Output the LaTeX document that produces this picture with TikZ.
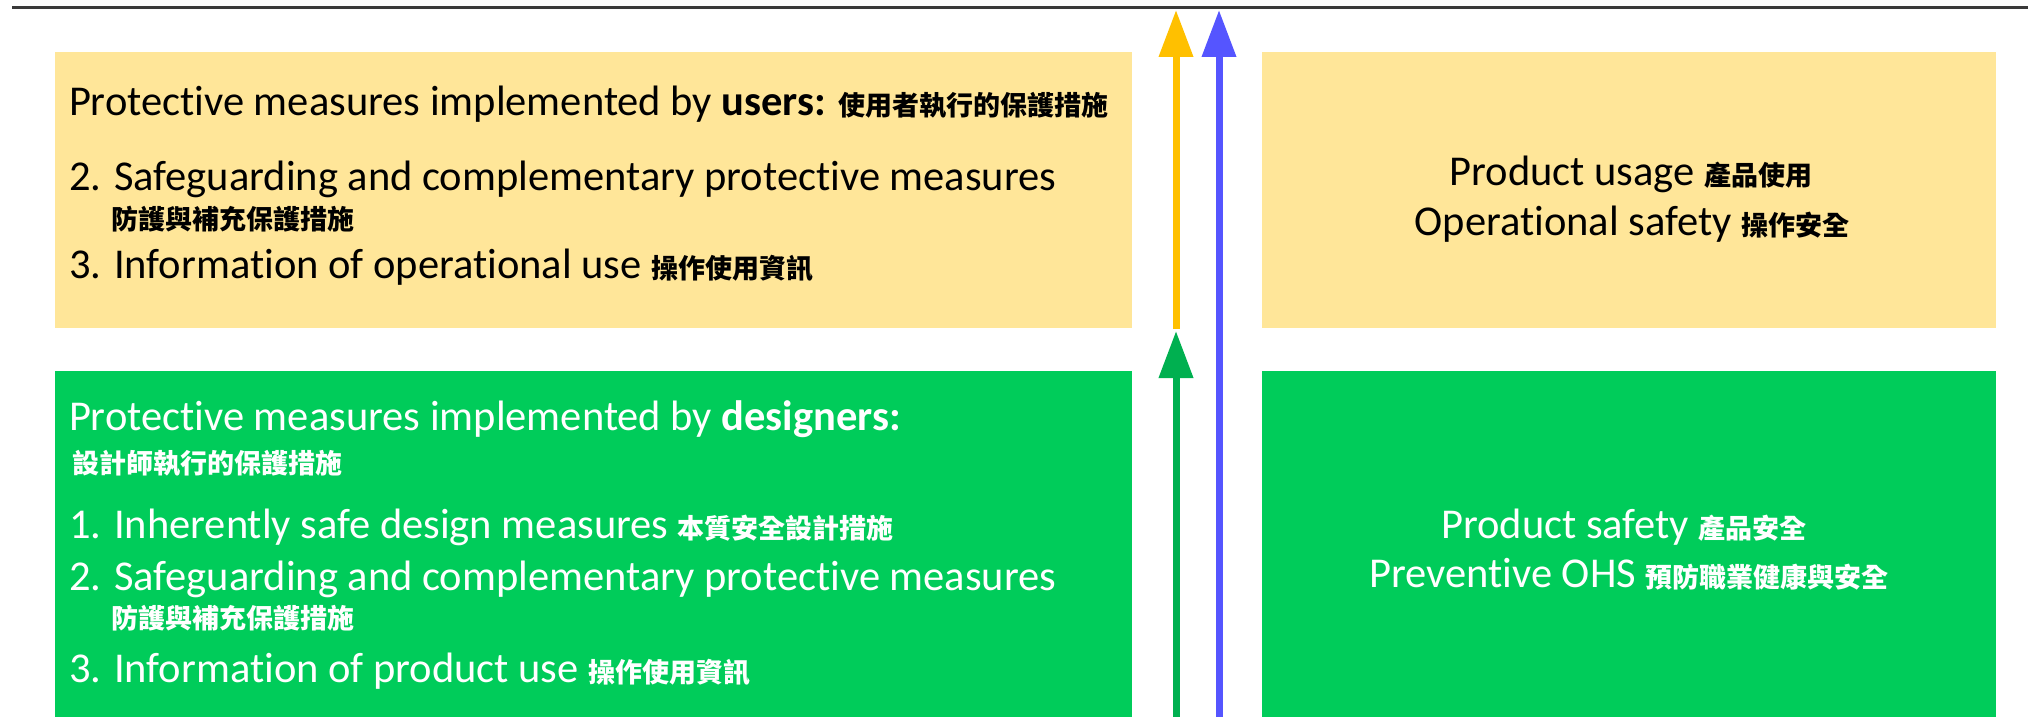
\documentclass[tikz,border=0pt]{standalone}
\usepackage{fontspec}
\setmainfont{Carlito}[Ligatures={NoCommon}]
\newfontfamily\cjk{Noto Sans CJK TC}
\usetikzlibrary{arrows.meta}
\definecolor{boxyellow}{HTML}{FFE699}
\definecolor{boxgreen}{HTML}{00CC5A}
\definecolor{arryellow}{HTML}{FFC000}
\definecolor{arrgreen}{HTML}{00B050}
\definecolor{arrblue}{HTML}{5555FF}
\definecolor{topline}{HTML}{3A3A3A}
\newcommand{\zh}[1]{{\cjk\bfseries\fontsize{27}{30}\selectfont #1}}
\tikzset{
  panel/.style={draw=none, inner sep=0pt, outer sep=0pt},
  en/.style={inner sep=0pt, outer sep=0pt, font=\fontsize{42.5}{50}\selectfont},
  enl/.style={en, anchor=base west},
  enc/.style={en, anchor=base},
  upar/.style={line width=7pt, -{Triangle[width=33pt,length=47pt]}},
}
\begin{document}
\begin{tikzpicture}[x=1pt,y=-1pt]
\useasboundingbox (0,0) rectangle (2028,717);
% top line
\coordinate (tl) at (12,8);
\coordinate (tr) at (2028,8);
\draw[topline, line width=3pt] (tl) -- (tr);
% panels
\path[fill=boxyellow] (55,52) rectangle (1132,328) node[panel] (uy) {};
\path[fill=boxgreen] (55,371) rectangle (1132,717) node[panel] (dg) {};
\path[fill=boxyellow] (1262,52) rectangle (1996,328) node[panel] (ry) {};
\path[fill=boxgreen] (1262,371) rectangle (1996,717) node[panel] (rg) {};
% users box text
\node[enl] (u1) at (69,115) {Protective measures implemented by \textbf{users:} \zh{使用者執行的保護措施}};
\node[enl] (u2) at (69,190) {2. Safeguarding and complementary protective measures};
\node[enl] (u2z) at (111,229) {\zh{防護與補充保護措施}};
\node[enl] (u3) at (69,278) {3. Information of operational use \zh{操作使用資訊}};
% designers box text
\begin{scope}[every node/.append style={text=white}]
\node[enl] (d1) at (69,430) {Protective measures implemented by \textbf{designers:}};
\node[enl] (d1z) at (72,473) {\zh{設計師執行的保護措施}};
\node[enl] (d2) at (69,538) {1. Inherently safe design measures \zh{本質安全設計措施}};
\node[enl] (d3) at (69,590) {2. Safeguarding and complementary protective measures};
\node[enl] (d3z) at (111,628) {\zh{防護與補充保護措施}};
\node[enl] (d4) at (69,682) {3. Information of product use \zh{操作使用資訊}};
\node[enc] (r3) at (1624,538) {Product safety \zh{產品安全}};
\node[enc] (r4) at (1629,587) {Preventive OHS \zh{預防職業健康與安全}};
\end{scope}
% right yellow text
\node[enc] (r1) at (1631,185) {Product usage \zh{產品使用}};
\node[enc] (r2) at (1632,235) {Operational safety \zh{操作安全}};
% arrows
\coordinate (gb) at (1176,717);
\coordinate (gt) at (1176,331);
\coordinate (yb) at (1176,329);
\coordinate (yt) at (1176,10);
\coordinate (bb) at (1219,717);
\coordinate (bt) at (1219,10);
\draw[upar, arrgreen] (gb) -- (gt);
\draw[upar, arryellow] (yb) -- (yt);
\draw[upar, arrblue] (bb) -- (bt);
\end{tikzpicture}
\end{document}
